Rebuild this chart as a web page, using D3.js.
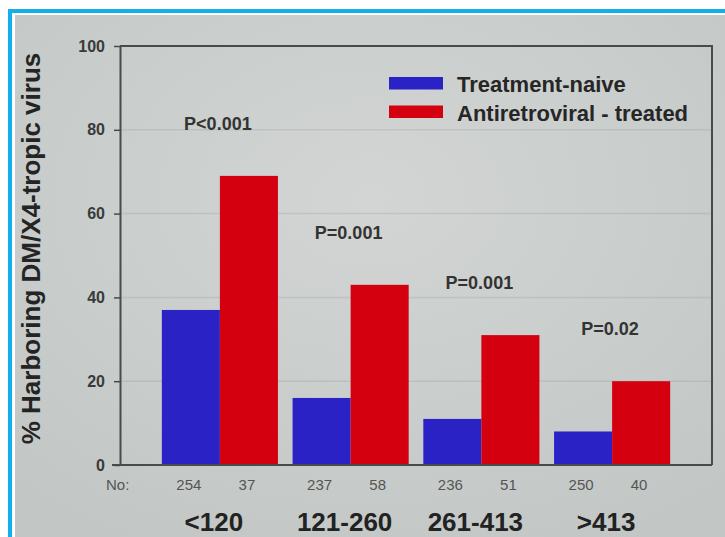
<!DOCTYPE html>
<html>
<head>
<meta charset="utf-8">
<script src="https://cdn.jsdelivr.net/npm/d3@7/dist/d3.min.js"></script>
<style>
  html, body { margin: 0; padding: 0; background: #ffffff; }
  svg { display: block; }
  text { font-family: "Liberation Sans", Arial, sans-serif; }
</style>
</head>
<body>
<svg id="chart" width="725" height="537"></svg>
<script>
// ---- data ----
const categories = ["<120", "121-260", "261-413", ">413"];
const seriesNames = ["Treatment-naive", "Antiretroviral - treated"];
const naiveValues = [37, 16, 11, 8];
const treatedValues = [69, 43, 31, 20];
const naiveN = [254, 237, 236, 250];
const treatedN = [37, 58, 51, 40];
const pValues = ["P<0.001", "P=0.001", "P=0.001", "P=0.02"];
const yTicks = [0, 20, 40, 60, 80, 100];
const yTitle = "% Harboring DM/X4-tropic virus";
const nLabel = "No:";

// ---- styles ----
const colors = ["#2b22c6", "#d4000f"];
const W = 725, H = 537;
const plot = { left: 120, right: 712, top: 46, bottom: 465 };

const svg = d3.select("#chart");

// background / frame
svg.append("rect").attr("x", 0).attr("y", 0).attr("width", W).attr("height", H).attr("fill", "#ffffff");
const defs = svg.append("defs");
const grad = defs.append("radialGradient").attr("id", "bg").attr("cx", "50%").attr("cy", "35%").attr("r", "75%");
grad.append("stop").attr("offset", "0%").attr("stop-color", "#d2d5d3");
grad.append("stop").attr("offset", "100%").attr("stop-color", "#c2c7c5");
svg.append("rect").attr("x", 10).attr("y", 11).attr("width", 800).attr("height", 600)
  .attr("fill", "none").attr("stroke", "#14aeea").attr("stroke-width", 4);
svg.append("rect").attr("x", 15).attr("y", 15).attr("width", W - 15).attr("height", H - 15)
  .attr("fill", "url(#bg)");

// scales
const x0 = d3.scaleBand().domain(categories).range([plot.left, plot.right])
  .paddingInner(0.112).paddingOuter(0.32);
const x1 = d3.scaleBand().domain(seriesNames).range([0, x0.bandwidth()]).padding(0);
const y = d3.scaleLinear().domain([0, 100]).range([plot.bottom, plot.top]);

// gridlines
svg.append("g").selectAll("line").data(yTicks.filter(d => d > 0 && d < 100)).join("line")
  .attr("x1", plot.left).attr("x2", plot.right)
  .attr("y1", d => y(d)).attr("y2", d => y(d))
  .attr("stroke", "#000").attr("stroke-opacity", 0.07).attr("stroke-width", 1.5);

// bars
const rows = categories.map((c, i) => ({ cat: c, vals: [naiveValues[i], treatedValues[i]], ns: [naiveN[i], treatedN[i]], p: pValues[i] }));
const groups = svg.append("g").selectAll("g").data(rows).join("g")
  .attr("transform", d => `translate(${x0(d.cat)},0)`);
groups.selectAll("rect").data(d => d.vals.map((v, k) => ({ k, v }))).join("rect")
  .attr("x", d => x1(seriesNames[d.k]))
  .attr("width", x1.bandwidth())
  .attr("y", d => y(d.v))
  .attr("height", d => y(0) - y(d.v))
  .attr("fill", d => colors[d.k]);

// frame (top and right)
svg.append("path")
  .attr("d", `M${plot.left},${plot.top}H${plot.right}V${plot.bottom}`)
  .attr("fill", "none").attr("stroke", "#4a4a4a").attr("stroke-width", 2);

// y axis
const yAxis = svg.append("g").attr("transform", `translate(${plot.left},0)`)
  .call(d3.axisLeft(y).tickValues(yTicks).tickSize(6).tickPadding(9).tickSizeOuter(0));
yAxis.select(".domain").attr("stroke", "#4a4a4a").attr("stroke-width", 2);
yAxis.selectAll(".tick line").attr("stroke", "#4a4a4a").attr("stroke-width", 1.5);
yAxis.selectAll(".tick text").attr("fill", "#3a3a3a").attr("font-size", 16)
  .attr("font-weight", "bold").attr("font-family", "Liberation Sans, Arial, sans-serif");

// x baseline
const xAxis = svg.append("g").attr("transform", `translate(0,${plot.bottom})`)
  .call(d3.axisBottom(x0).tickSize(0).tickFormat(""));
xAxis.select(".domain").attr("d", `M${plot.left - 8},0H${plot.right}`)
  .attr("stroke", "#4a4a4a").attr("stroke-width", 2);

// y title
svg.append("text")
  .attr("transform", `translate(40,${(plot.top + plot.bottom) / 2 - 7}) rotate(-90)`)
  .attr("text-anchor", "middle").attr("font-size", 26).attr("font-weight", "bold")
  .attr("fill", "#242424").text(yTitle);

// p-values
groups.append("text")
  .attr("x", x0.bandwidth() / 2 - 2)
  .attr("y", d => y(d.vals[1]) - 46)
  .attr("text-anchor", "middle").attr("font-size", 18).attr("font-weight", "bold")
  .attr("fill", "#333").text(d => d.p);

// sample sizes
svg.append("text").attr("x", 106).attr("y", 490).attr("font-size", 15)
  .attr("fill", "#555").text(nLabel);
groups.selectAll("text.n").data(d => d.ns.map((n, k) => ({ k, n }))).join("text")
  .attr("class", "n")
  .attr("x", d => x1(seriesNames[d.k]) + x1.bandwidth() / 2 - 2)
  .attr("y", 490)
  .attr("text-anchor", "middle").attr("font-size", 15).attr("fill", "#555")
  .text(d => d.n);

// category labels
groups.append("text")
  .attr("x", x0.bandwidth() / 2 - 6)
  .attr("y", 531)
  .attr("text-anchor", "middle").attr("font-size", 26).attr("font-weight", "bold")
  .attr("fill", "#222").text(d => d.cat);

// legend
const legend = svg.append("g").attr("transform", "translate(389,77)");
const li = legend.selectAll("g").data(seriesNames).join("g")
  .attr("transform", (d, i) => `translate(0,${i * 28.5})`);
li.append("rect").attr("width", 54).attr("height", 12.5).attr("fill", (d, i) => colors[i]);
li.append("text").attr("x", 68).attr("y", 15).attr("font-size", 22).attr("font-weight", "bold")
  .attr("fill", "#262626").text(d => d);
</script>
</body>
</html>
